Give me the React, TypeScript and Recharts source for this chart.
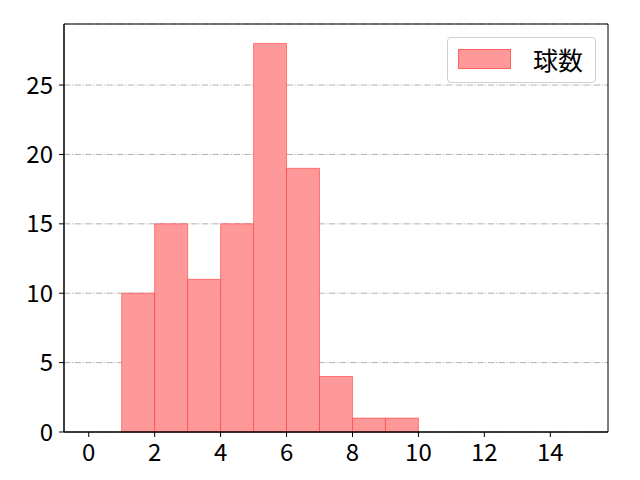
import React from "react";
import {
  ComposedChart,
  Line,
  XAxis,
  YAxis,
  CartesianGrid,
  ReferenceArea,
  Legend,
} from "recharts";

const binStarts = [0, 1, 2, 3, 4, 5, 6, 7, 8, 9, 10, 11, 12, 13, 14];
const binCounts = [0, 10, 15, 11, 15, 28, 19, 4, 1, 1, 0, 0, 0, 0, 0];
const xTicks = [0, 2, 4, 6, 8, 10, 12, 14];
const yTicks = [0, 5, 10, 15, 20, 25];
const seriesName = "球数";

const data = binStarts.map((s, i) => ({
  start: s,
  end: s + 1,
  center: s + 0.5,
  count: binCounts[i],
}));

const FONT = "'Noto Sans CJK JP', 'DejaVu Sans', sans-serif";
const FILL = "#ff9999";
const EDGE = "#ff3b3b";

const LegendBox = () => (
  <div
    style={{
      position: "absolute",
      left: 447,
      top: 37,
      width: 149,
      height: 46,
      border: "1px solid #d0d0d0",
      borderRadius: 4,
      background: "rgba(255,255,255,0.8)",
      boxSizing: "border-box",
      fontFamily: FONT,
    }}
  >
    <div
      style={{
        position: "absolute",
        left: 10,
        top: 11,
        width: 53,
        height: 20,
        background: FILL,
        border: "1px solid rgba(255,59,59,0.6)",
        boxSizing: "border-box",
      }}
    />
    <div
      style={{
        position: "absolute",
        left: 85,
        top: 3,
        fontSize: 25,
        lineHeight: "36px",
        color: "#000",
        whiteSpace: "nowrap",
      }}
    >
      {seriesName}
    </div>
  </div>
);

export default function App() {
  return (
    <div style={{ position: "absolute", left: 0, top: 0, width: 640, height: 480, background: "#fff" }}>
      <ComposedChart
        width={640}
        height={480}
        data={data}
        margin={{ top: 24, right: 32, bottom: 8, left: 0 }}
      >
        <CartesianGrid
          vertical={false}
          stroke="#b0b0b0"
          strokeWidth={1}
          strokeDasharray="6.4,1.6,1,1.6"
        />
        <XAxis
          dataKey="center"
          type="number"
          domain={[-0.75, 15.75]}
          ticks={xTicks}
          allowDataOverflow
          height={40}
          stroke="#000"
          tickSize={5}
          tickMargin={7}
          tick={{ fill: "#000", fontSize: 24, fontFamily: FONT }}
          axisLine={{ stroke: "#000", strokeWidth: 1 }}
          tickLine={{ stroke: "#000" }}
          interval={0}
        />
        <YAxis
          type="number"
          domain={[0, 29.4]}
          ticks={yTicks}
          allowDataOverflow
          width={64}
          stroke="#000"
          tickSize={5}
          tickMargin={6}
          tick={{ fill: "#000", fontSize: 24, fontFamily: FONT }}
          axisLine={{ stroke: "#000", strokeWidth: 1 }}
          tickLine={{ stroke: "#000" }}
          interval={0}
        />
        {data.map((d) => (
          <ReferenceArea
            key={d.start}
            x1={d.start}
            x2={d.end}
            y1={0}
            y2={d.count}
            fill={FILL}
            fillOpacity={1}
            stroke={EDGE}
            strokeOpacity={0.6}
            strokeWidth={1}
            ifOverflow="visible"
          />
        ))}
        <ReferenceArea
          x1={-0.75}
          x2={15.75}
          y1={0}
          y2={29.4}
          fill="none"
          stroke="#000"
          strokeWidth={1}
          ifOverflow="visible"
        />
        <Line
          dataKey="count"
          name={seriesName}
          stroke="none"
          dot={false}
          activeDot={false}
          legendType="none"
          isAnimationActive={false}
        />
        <Legend content={() => <LegendBox />} wrapperStyle={{ position: "absolute", left: 0, top: 0, width: 0, height: 0 }} />
      </ComposedChart>
    </div>
  );
}
